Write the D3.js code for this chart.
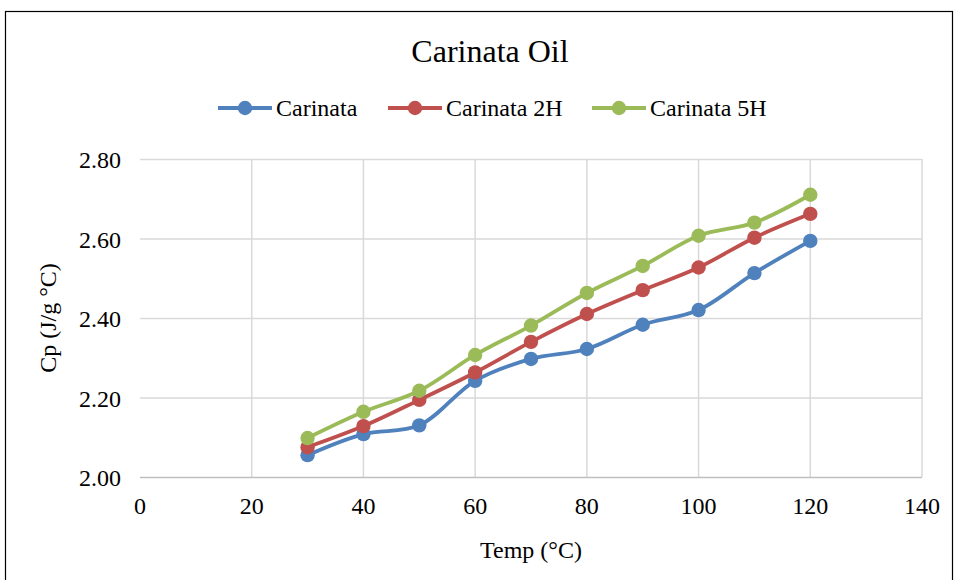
<html>
<head>
<meta charset="utf-8" />
<title>Carinata Oil</title>
<script src="https://d3js.org/d3.v7.min.js"></script>
<style>
    body { margin: 0px; background: #fff; }
    svg text { font-family: "Liberation Serif", "Times New Roman", serif; fill: #000; }
</style>
</head>
<body>
<script>
// values
var temps = [30, 40, 50, 60, 70, 80, 90, 100, 110, 120];
var carinata   = [2.055, 2.108, 2.130, 2.242, 2.297, 2.322, 2.383, 2.420, 2.513, 2.594];
var carinata2H = [2.075, 2.128, 2.194, 2.263, 2.340, 2.410, 2.470, 2.527, 2.602, 2.662];
var carinata5H = [2.098, 2.164, 2.217, 2.307, 2.381, 2.463, 2.531, 2.607, 2.640, 2.710];
var seriesNames = ["Carinata", "Carinata 2H", "Carinata 5H"];
var xTicks = [0, 20, 40, 60, 80, 100, 120, 140];
var yTicks = [2.00, 2.20, 2.40, 2.60, 2.80];

var colors = ["#4F81BD", "#C0504D", "#9BBB59"];
var allSeries = [carinata, carinata2H, carinata5H];

var width = 956, height = 580;
var plot = {left: 140, right: 922, top: 159, bottom: 477};

var svg = d3.select("body").append("svg")
    .attr("width", width)
    .attr("height", height);

// outer chart border
svg.append("rect")
    .attr("x", 5.5).attr("y", 11.5)
    .attr("width", 947).attr("height", 600)
    .attr("fill", "none").attr("stroke", "#000").attr("stroke-width", 1.2);

var x = d3.scaleLinear().domain([0, 140]).range([plot.left, plot.right]);
var y = d3.scaleLinear().domain([2.0, 2.8]).range([plot.bottom, plot.top]);

// gridlines
svg.append("g").selectAll("line.h")
    .data(yTicks.slice(1))
    .enter().append("line")
    .attr("x1", plot.left).attr("x2", plot.right)
    .attr("y1", d => y(d) + 0.5).attr("y2", d => y(d) + 0.5)
    .attr("stroke", "#D9D9D9").attr("stroke-width", 1.5);

svg.append("g").selectAll("line.v")
    .data(xTicks.slice(1))
    .enter().append("line")
    .attr("x1", d => x(d)).attr("x2", d => x(d))
    .attr("y1", plot.top).attr("y2", plot.bottom)
    .attr("stroke", "#D9D9D9").attr("stroke-width", 1.5);

// x axis line
svg.append("line")
    .attr("x1", plot.left).attr("x2", plot.right)
    .attr("y1", plot.bottom + 0.5).attr("y2", plot.bottom + 0.5)
    .attr("stroke", "#BFBFBF").attr("stroke-width", 1.5);

// tick labels
svg.append("g").selectAll("text")
    .data(xTicks)
    .enter().append("text")
    .attr("x", d => x(d))
    .attr("y", plot.bottom + 37)
    .attr("text-anchor", "middle")
    .style("font-size", "24px")
    .text(d => d);

svg.append("g").selectAll("text")
    .data(yTicks)
    .enter().append("text")
    .attr("x", 121)
    .attr("y", d => y(d) + 9)
    .attr("text-anchor", "end")
    .style("font-size", "24px")
    .text(d => d.toFixed(2));

// axis titles
svg.append("text")
    .attr("x", 531).attr("y", 558)
    .attr("text-anchor", "middle")
    .style("font-size", "24px")
    .text("Temp (°C)");

svg.append("text")
    .attr("transform", "translate(56," + ((plot.top + plot.bottom) / 2) + ") rotate(-90)")
    .attr("text-anchor", "middle")
    .style("font-size", "24px")
    .text("Cp (J/g °C)");

// title
svg.append("text")
    .attr("x", 490).attr("y", 62)
    .attr("text-anchor", "middle")
    .style("font-size", "32px")
    .text("Carinata Oil");

// series lines + markers
var line = d3.line()
    .x((d, i) => x(temps[i]))
    .y(d => y(d))
    .curve(d3.curveCatmullRom.alpha(0.5));

allSeries.forEach(function(vals, s) {
    svg.append("path")
        .datum(vals)
        .attr("d", line)
        .attr("fill", "none")
        .attr("stroke", colors[s])
        .attr("stroke-width", 3.8)
        .attr("stroke-linejoin", "round");
    svg.append("g").selectAll("circle")
        .data(vals)
        .enter().append("circle")
        .attr("cx", (d, i) => x(temps[i]))
        .attr("cy", d => y(d))
        .attr("r", 7.2)
        .attr("fill", colors[s]);
});

// legend
var legendX = [218, 388, 592];
seriesNames.forEach(function(name, s) {
    var g = svg.append("g").attr("transform", "translate(" + legendX[s] + ",108)");
    g.append("line").attr("x1", 0).attr("x2", 54).attr("y1", 0).attr("y2", 0)
        .attr("stroke", colors[s]).attr("stroke-width", 3.8);
    g.append("circle").attr("cx", 27).attr("cy", 0).attr("r", 7.2).attr("fill", colors[s]);
    g.append("text").attr("x", 58).attr("y", 8)
        .style("font-size", "24px")
        .text(name);
});
</script>
</body>
</html>
